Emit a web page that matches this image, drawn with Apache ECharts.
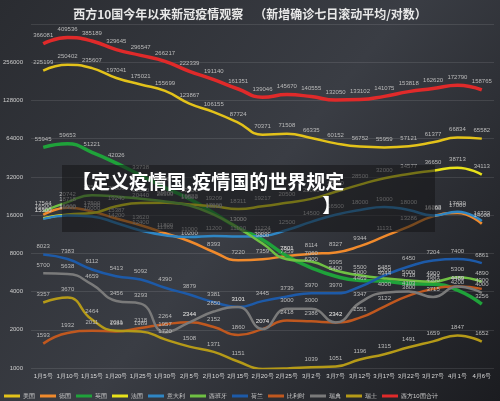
<!DOCTYPE html>
<html><head><meta charset="utf-8">
<script src="https://cdn.jsdelivr.net/npm/echarts@6/dist/echarts.min.js"></script>
<style>html,body{margin:0;padding:0;background:#222}#c{width:500px;height:401px}</style>
</head><body><div id="c"></div>
<script>
const categories=['1月5号','1月10号','1月15号','1月20号','1月25号','1月30号','2月5号','2月10号','2月15号','2月20号','2月25号','3月2号','3月7号','3月12号','3月17号','3月22号','3月27号','4月1号','4月6号'];
const usa=[225199,250402,235607,197041,175021,155699,123867,106155,87724,70371,71508,66335,60152,56752,55959,57121,61377,66834,65582];
const germany=[16500,18718,17500,15387,13620,11800,10200,8393,7220,7359,7801,8114,8327,9344,11131,13286,16000,17000,14000];
const uk=[55945,59653,51221,42026,33738,27000,22000,17000,13000,10500,7801,6300,5400,5000,4944,4718,4684,4200,3256];
const france=[15500,16600,17000,19240,20440,20500,19822,19209,18311,19217,20500,22000,25000,28500,32000,34577,36650,38713,34113];
const italy=[15300,16300,16000,14200,12400,11363,11000,11200,11100,11224,12500,14500,16500,18000,19000,18000,16263,17430,14733];
const spain=[17544,20742,23500,23000,22000,21000,19500,16500,13000,9800,7359,7060,5995,5500,5200,5000,4900,5300,4890];
const netherlands=[8023,7383,6112,5413,5092,4390,3879,3381,3101,3445,3739,3970,3970,4469,5485,6450,7204,7400,6861];
const belgium=[1593,1932,2011,1989,2118,2264,2344,2152,1860,2074,2418,2386,2342,2551,3122,3800,4300,4489,4300];
const sweden=[5700,5638,4659,3456,3293,1957,2344,2850,3101,2074,3000,3000,2342,3347,4000,4103,3715,4489,4000];
const swiss=[3357,3670,2464,2011,1989,1720,1508,1371,1151,1007,1016,1039,1051,1196,1315,1491,1659,1847,1652];
const total=[366081,409536,385189,329645,296547,266217,222339,191140,161351,139046,145670,140555,132050,133102,141075,153818,162620,172790,158765];
const defs=[['美国',usa,'#e3c21a'],['德国',germany,'#f08a2c'],['英国',uk,'#1fa23a'],['法国',france,'#e8e21a'],['意大利',italy,'#2f86c4'],['西班牙',spain,'#6fc043'],['荷兰',netherlands,'#1d5aa8'],['比利时',belgium,'#c0581f'],['瑞典',sweden,'#7a7a7a'],['瑞士',swiss,'#b59a18'],['西方10国合计',total,'#e02a2a']];
const chart=echarts.init(document.getElementById('c'));
chart.setOption({
 backgroundColor:new echarts.graphic.LinearGradient(0,0,1,1,[{offset:0,color:'#2a2c31'},{offset:0.5,color:'#3a3d44'},{offset:1,color:'#1b1c20'}]),
 title:{text:'西方10国今年以来新冠疫情观察    （新增确诊七日滚动平均/对数）',left:'center',top:3,textStyle:{color:'#e8e8e8',fontSize:12,fontWeight:'bold',fontFamily:'Noto Sans CJK SC'}},
 grid:{left:31,right:6,top:24,bottom:33},
 legend:{bottom:2,left:4,width:494,itemWidth:16,itemHeight:3,itemGap:5,padding:0,icon:'rect',textStyle:{color:'#ccc',fontSize:6,padding:[0,0,0,-2]},data:defs.map(d=>d[0])},
 xAxis:{type:'category',data:categories,axisLine:{show:false},axisTick:{show:false},axisLabel:{color:'#ddd',fontSize:6,interval:0,margin:5}},
 yAxis:{type:'log',logBase:2,min:1024,max:524288,axisLine:{show:false},axisTick:{show:false},
  axisLabel:{color:'#ccc',fontSize:6,formatter:v=>v>300000?'':String(Math.round(v/1024)*1000)},
  splitLine:{lineStyle:{color:'rgba(255,255,255,0.1)'}}},
 series:defs.map(d=>({name:d[0],type:'line',data:d[1],smooth:true,symbol:'circle',symbolSize:0.1,showSymbol:true,z:d[0]==='西方10国合计'?5:3,
  lineStyle:{width:d[0]==='英国'||d[0]==='西方10国合计'?3.5:2.5,color:d[2]},itemStyle:{color:d[2]},
  label:{show:true,position:'top',distance:5,color:'#bbb',fontSize:6}})),
 graphic:[{type:'rect',shape:{x:62,y:165,width:373,height:67},style:{fill:'rgba(20,20,22,0.55)'},z:100},
  {type:'text',left:72,top:170,style:{text:'【定义疫情国,疫情国的世界规定\n                                                          】',fill:'#fff',font:'bold 19px "Noto Sans CJK SC"',lineHeight:24},z:101}]
});
</script></body></html>
